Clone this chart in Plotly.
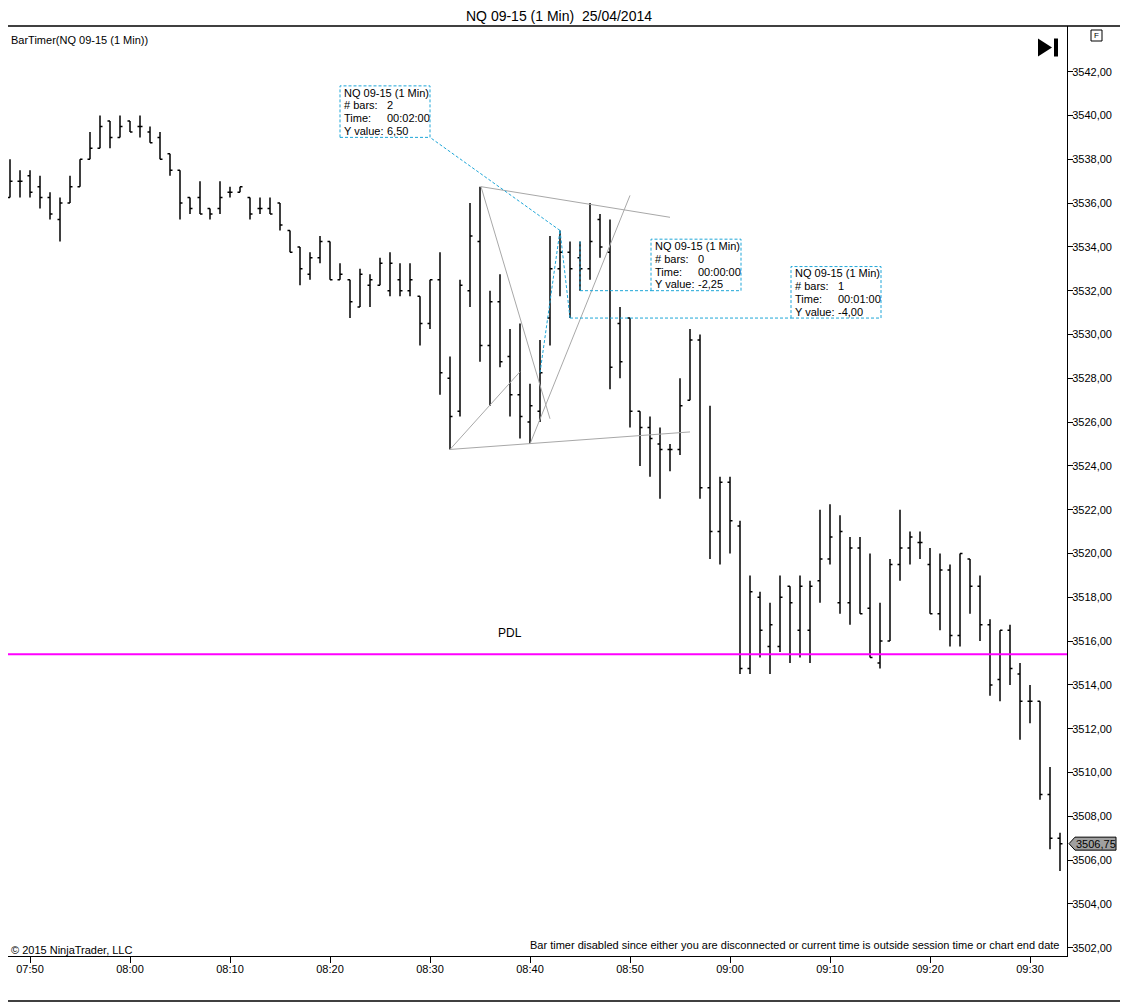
import pandas as pd
import plotly.graph_objects as go

DAY = '2014-04-25'

# 1 minute bars, 07:48 .. 09:33
bar_times = pd.date_range(f'{DAY} 07:48', f'{DAY} 09:33', freq='1min')

bar_open = [
    3536.25, 3537.0, 3537.25, 3536.75, 3536.25, 3535.25, 3536.0, 3536.75, 3538.0, 3538.5,
    3539.75, 3539.0, 3539.75, 3539.5, 3539.25, 3539.0, 3538.25, 3537.5, 3536.25, 3536.25,
    3535.75, 3535.75, 3536.5, 3536.5, 3536.25, 3535.75, 3535.75, 3536.0, 3534.75, 3534.0,
    3532.75, 3533.5, 3534.25, 3532.5, 3532.5, 3531.25, 3532.25, 3532.25, 3532.0, 3532.5,
    3532.0, 3531.75, 3530.5, 3532.5, 3528.0, 3526.5, 3532.0, 3534.25, 3529.5, 3531.5,
    3529.0, 3527.25, 3526.0, 3526.5, 3530.75, 3533.0, 3533.75, 3533.5, 3533.0, 3535.25,
    3533.75, 3530.5, 3530.75, 3526.5, 3525.75, 3525.0, 3524.75, 3524.75, 3527.0, 3529.75,
    3523.0, 3521.0, 3523.25, 3521.25, 3514.75, 3518.0, 3515.75, 3515.75, 3518.5, 3516.5,
    3516.5, 3518.75, 3519.75, 3517.75, 3517.75, 3520.25, 3517.5, 3515.0, 3516.0, 3519.5,
    3520.25, 3520.5, 3519.5, 3517.25, 3519.25, 3516.25, 3519.75, 3518.5, 3516.75, 3514.25,
    3516.5, 3514.5, 3513.25, 3513.25, 3509.0, 3507.0,
]
bar_high = [
    3538.0, 3537.5, 3537.5, 3537.25, 3536.5, 3536.25, 3537.25, 3538.0, 3539.25, 3540.0,
    3539.75, 3540.0, 3539.75, 3540.0, 3539.5, 3539.25, 3538.25, 3537.5, 3536.25, 3537.0,
    3535.75, 3537.0, 3536.75, 3536.75, 3536.25, 3536.25, 3536.25, 3536.0, 3534.75, 3534.0,
    3533.75, 3534.5, 3534.25, 3533.25, 3532.5, 3533.0, 3532.75, 3533.5, 3533.75, 3533.25,
    3533.25, 3531.75, 3532.5, 3533.75, 3529.0, 3532.5, 3536.0, 3536.75, 3532.0, 3532.75,
    3530.25, 3530.5, 3527.75, 3529.75, 3534.5, 3534.75, 3534.25, 3534.25, 3536.0, 3535.5,
    3535.25, 3531.25, 3530.75, 3526.5, 3526.25, 3525.75, 3525.0, 3528.0, 3530.25, 3530.0,
    3526.75, 3523.5, 3523.5, 3521.5, 3519.0, 3518.25, 3517.75, 3519.0, 3518.5, 3519.0,
    3518.75, 3522.0, 3522.25, 3521.75, 3520.75, 3520.75, 3520.0, 3517.75, 3519.75, 3522.0,
    3521.0, 3521.0, 3520.25, 3520.0, 3519.5, 3520.0, 3519.75, 3519.0, 3517.0, 3516.5,
    3516.75, 3515.0, 3514.0, 3513.25, 3510.25, 3507.25,
]
bar_low = [
    3536.25, 3536.25, 3536.25, 3535.75, 3535.25, 3534.25, 3536.0, 3536.75, 3538.0, 3538.5,
    3538.5, 3539.0, 3539.25, 3539.0, 3538.75, 3538.0, 3537.25, 3535.25, 3535.5, 3535.5,
    3535.25, 3535.5, 3536.25, 3536.5, 3535.25, 3535.5, 3535.5, 3534.75, 3533.75, 3532.25,
    3532.5, 3533.25, 3532.5, 3532.5, 3530.75, 3531.25, 3531.25, 3532.25, 3531.75, 3531.75,
    3531.75, 3529.5, 3530.25, 3527.25, 3524.75, 3526.25, 3531.25, 3528.75, 3526.75, 3528.5,
    3526.25, 3525.25, 3525.0, 3526.0, 3529.5, 3531.75, 3530.75, 3532.0, 3532.5, 3533.5,
    3527.5, 3528.0, 3525.75, 3524.0, 3523.5, 3522.5, 3523.75, 3524.5, 3527.0, 3522.5,
    3519.75, 3519.5, 3520.0, 3514.5, 3514.5, 3515.25, 3514.5, 3515.5, 3515.0, 3515.25,
    3515.0, 3517.75, 3519.5, 3517.25, 3516.75, 3517.25, 3515.25, 3514.75, 3516.0, 3518.75,
    3519.5, 3519.75, 3517.25, 3516.5, 3515.75, 3515.75, 3517.25, 3516.0, 3513.5, 3513.25,
    3514.0, 3511.5, 3512.25, 3508.75, 3506.5, 3505.5,
]
bar_close = [
    3537.0, 3537.0, 3536.5, 3536.25, 3535.5, 3536.0, 3536.75, 3538.0, 3538.5, 3539.5,
    3539.0, 3539.5, 3539.25, 3539.5, 3538.75, 3538.0, 3537.5, 3536.0, 3535.75, 3535.5,
    3535.5, 3536.25, 3536.5, 3536.75, 3535.5, 3535.75, 3535.5, 3535.0, 3533.75, 3533.0,
    3533.5, 3534.25, 3532.5, 3532.75, 3531.5, 3532.75, 3532.5, 3533.25, 3533.25, 3532.0,
    3532.5, 3530.5, 3532.5, 3528.25, 3526.25, 3532.25, 3534.5, 3529.5, 3531.5, 3528.75,
    3527.25, 3526.25, 3526.75, 3528.25, 3533.0, 3533.75, 3533.0, 3533.0, 3534.25, 3534.0,
    3528.5, 3528.75, 3526.5, 3525.75, 3525.25, 3524.75, 3524.75, 3526.75, 3529.75, 3523.0,
    3521.0, 3523.25, 3521.5, 3514.75, 3518.25, 3516.5, 3516.75, 3518.0, 3517.75, 3518.5,
    3518.5, 3519.75, 3520.75, 3521.0, 3520.25, 3517.25, 3515.25, 3516.0, 3519.5, 3520.25,
    3520.75, 3520.5, 3517.25, 3519.25, 3516.25, 3520.0, 3518.5, 3516.75, 3514.0, 3516.5,
    3514.75, 3513.25, 3513.25, 3509.0, 3507.0, 3506.75,
]

pdl_level = 3515.4
last_price = 3506.75
price_ticks = list(range(3502, 3543, 2))

# grey drawing lines (time, price) -> (time, price)
line_t0 = ['08:35:06', '08:35:06', '08:32', '08:32', '08:40']
line_p0 = [3536.75, 3536.75, 3524.75, 3524.75, 3525.0]
line_t1 = ['08:54', '08:42', '08:39', '08:56', '08:50']
line_p1 = [3535.35, 3526.15, 3528.3, 3525.55, 3536.35]

# ruler tools
ruler_t0 = ['08:41', '08:45', '08:43']
ruler_p0 = [3528.25, 3534.25, 3534.75]
ruler_t1 = ['08:43', '08:45', '08:44']
ruler_p1 = [3534.75, 3532.0, 3530.75]
ruler_bars = ['2', '0', '1']
ruler_span = ['00:02:00', '00:00:00', '00:01:00']
ruler_value = ['6,50', '-2,25', '-4,00']
box_left = ['08:21', '08:52:06', '09:06:06']
box_bottom = [3539.0, 3532.0, 3530.75]

x_ticks_start = '07:50'

# ---- geometry (page has an 8px body margin, so the figure sits at 8,8)
OFF = 8
FIG_W, FIG_H = 1120, 994
L, R, T, B = 0, 61, 18, 46
PW, PH = FIG_W - L - R, FIG_H - T - B
PX_PER_MIN = 10.0
PX_PER_PT = 21.9
x_lo = pd.Timestamp(f'{DAY} 07:47:48')
x_hi = x_lo + pd.Timedelta(minutes=PW / PX_PER_MIN)
y_lo = 3501.62
y_hi = y_lo + PH / PX_PER_PT


def t(s):
    return pd.Timestamp(f'{DAY} {s}')


def fx(px):  # window pixel -> paper x
    return (px - OFF - L) / PW


def fy(py):  # window pixel -> paper y
    return 1 - (py - OFF - T) / PH


CYAN = '#1ea6d8'
GREY = '#a8a8a8'
FONT = 'Liberation Sans, Arial, sans-serif'

fig = go.Figure()

fig.add_trace(go.Ohlc(
    x=bar_times, open=bar_open, high=bar_high, low=bar_low, close=bar_close,
    increasing=dict(line=dict(color='black', width=1.5)),
    decreasing=dict(line=dict(color='black', width=1.5)),
    tickwidth=0.25, showlegend=False, hoverinfo='x+y',
))

shapes = []
annotations = []

# grey lines
for a, pa, b, pb in zip(line_t0, line_p0, line_t1, line_p1):
    shapes.append(dict(type='line', xref='x', yref='y', x0=t(a), y0=pa, x1=t(b), y1=pb,
                       line=dict(color=GREY, width=1)))

# previous day low
shapes.append(dict(type='line', xref='paper', yref='y', x0=0, x1=1, y0=pdl_level, y1=pdl_level,
                   line=dict(color='#ff00ff', width=2)))
annotations.append(dict(x=t('08:38'), y=pdl_level + 0.98, xref='x', yref='y', text='PDL',
                        showarrow=False, xanchor='center',
                        font=dict(size=12, color='black', family=FONT)))

# rulers with their info boxes
box_w = pd.Timedelta(minutes=90 / PX_PER_MIN)
box_h = 51.5 / PX_PER_PT
dash = '3px,2px'
for i in range(3):
    a, b = t(ruler_t0[i]), t(ruler_t1[i])
    shapes.append(dict(type='line', xref='x', yref='y', x0=a, y0=ruler_p0[i], x1=b, y1=ruler_p1[i],
                       line=dict(color=CYAN, width=1, dash=dash)))
    left = t(box_left[i])
    right = left + box_w
    bot = box_bottom[i]
    top = bot + box_h
    corner = right if right < b else left
    shapes.append(dict(type='line', xref='x', yref='y', x0=b, y0=ruler_p1[i], x1=corner, y1=bot,
                       line=dict(color=CYAN, width=1, dash=dash)))
    shapes.append(dict(type='rect', xref='x', yref='y', x0=left, x1=right, y0=bot, y1=top,
                       line=dict(color=CYAN, width=1, dash=dash), fillcolor='rgba(0,0,0,0)'))
    rows = [('NQ 09-15 (1 Min)', ''), ('# bars:', ruler_bars[i]),
            ('Time:', ruler_span[i]), ('Y value:', ruler_value[i])]
    for k, (lab, val) in enumerate(rows):
        yy = top - (6.8 + 12.8 * k) / PX_PER_PT
        annotations.append(dict(x=left + pd.Timedelta(minutes=0.2), y=yy, xref='x', yref='y',
                                text=lab, showarrow=False, xanchor='left', yanchor='middle',
                                font=dict(size=11, color='black', family=FONT)))
        if val:
            annotations.append(dict(x=left + pd.Timedelta(minutes=4.5), y=yy, xref='x', yref='y',
                                    text=val, showarrow=False, xanchor='left', yanchor='middle',
                                    font=dict(size=11, color='black', family=FONT)))

# last price marker on the axis
mh = 6.5 / PX_PER_PT
shapes.append(dict(type='path', xref='paper', yref='y',
                   path=(f'M {fx(1069)},{last_price} L {fx(1075)},{last_price + mh} '
                         f'L {fx(1116)},{last_price + mh} L {fx(1116)},{last_price - mh} '
                         f'L {fx(1075)},{last_price - mh} Z'),
                   fillcolor='#a0a0a0', line=dict(color='black', width=1)))
annotations.append(dict(x=fx(1095.5), y=last_price, xref='paper', yref='y',
                        text=f'{last_price:.2f}'.replace('.', ','), showarrow=False,
                        xanchor='center', yanchor='middle',
                        font=dict(size=11, color='black', family=FONT)))

# window frame
shapes += [
    dict(type='line', xref='paper', yref='paper', x0=fx(OFF), x1=fx(1128), y0=fy(26), y1=fy(26),
         line=dict(color='black', width=1.5)),
    dict(type='line', xref='paper', yref='paper', x0=fx(OFF), x1=fx(1128), y0=fy(1001), y1=fy(1001),
         line=dict(color='black', width=1.5)),
]

# "go to end" button and F box
shapes += [
    dict(type='path', xref='paper', yref='paper',
         path=f'M {fx(1038)},{fy(38.5)} L {fx(1052)},{fy(47.5)} L {fx(1038)},{fy(56.5)} Z',
         fillcolor='black', line=dict(width=0)),
    dict(type='rect', xref='paper', yref='paper', x0=fx(1054), x1=fx(1058), y0=fy(38.5), y1=fy(56.5),
         fillcolor='black', line=dict(width=0)),
    dict(type='rect', xref='paper', yref='paper', x0=fx(1091), x1=fx(1102), y0=fy(30), y1=fy(41),
         fillcolor='white', line=dict(color='black', width=1)),
]
annotations.append(dict(x=fx(1096.5), y=fy(35.5), xref='paper', yref='paper', text='F',
                        showarrow=False, xanchor='center', yanchor='middle',
                        font=dict(size=8, color='black', family=FONT)))

# texts
annotations += [
    dict(x=fx(559), y=fy(16.5), xref='paper', yref='paper', text='NQ 09-15 (1 Min)  25/04/2014',
         showarrow=False, xanchor='center', yanchor='middle',
         font=dict(size=14, color='black', family=FONT)),
    dict(x=fx(9), y=fy(40), xref='paper', yref='paper', text='BarTimer(NQ 09-15 (1 Min))',
         showarrow=False, xanchor='left', yanchor='middle',
         font=dict(size=11, color='black', family=FONT)),
    dict(x=fx(9), y=fy(949.5), xref='paper', yref='paper', text='© 2015 NinjaTrader, LLC',
         showarrow=False, xanchor='left', yanchor='middle',
         font=dict(size=11, color='black', family=FONT)),
    dict(x=fx(1062), y=fy(944.5), xref='paper', yref='paper',
         text='Bar timer disabled since either you are disconnected or current time is outside '
              'session time or chart end date',
         showarrow=False, xanchor='right', yanchor='middle',
         font=dict(size=11, color='black', family=FONT)),
]

fig.update_layout(
    width=FIG_W, height=FIG_H,
    margin=dict(l=L, r=R, t=T, b=B, pad=0),
    paper_bgcolor='white', plot_bgcolor='white',
    separators=',.',
    font=dict(family=FONT, size=11, color='black'),
    shapes=shapes, annotations=annotations,
    showlegend=False,
    xaxis=dict(
        type='date', range=[x_lo, x_hi], rangeslider=dict(visible=False),
        tickformat='%H:%M', dtick=600000, tick0=t(x_ticks_start),
        ticks='outside', ticklen=6, tickcolor='black', tickfont=dict(size=11),
        ticklabelstandoff=-3,
        showgrid=False, zeroline=False, showline=True, linecolor='black', linewidth=1,
    ),
    yaxis=dict(
        side='right', range=[y_lo, y_hi], tickmode='array', tickvals=price_ticks,
        tickformat='.2f',
        ticks='outside', ticklen=5, tickcolor='black', tickfont=dict(size=11),
        ticklabelstandoff=-3,
        showgrid=False, zeroline=False, showline=True, linecolor='black', linewidth=1,
    ),
)

fig.write_html('out.html')
